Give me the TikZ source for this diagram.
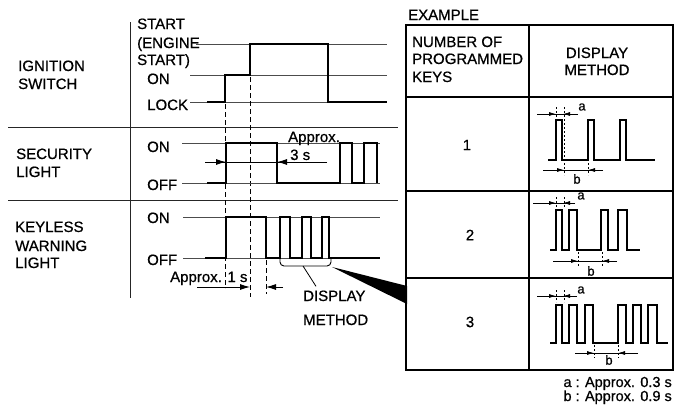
\documentclass[tikz,border=0pt]{standalone}
\usepackage{fontspec}
\setmainfont{Liberation Sans}[FakeBold=0.7]
\usetikzlibrary{arrows.meta}
\tikzset{
  wave/.style={line width=2.4pt, line join=miter},
  cellwave/.style={line width=2.2pt, line join=miter},
  level/.style={line width=0.6pt, black!70},
  rule/.style={line width=0.9pt, black!85},
  grid/.style={line width=1.3pt},
  guide/.style={line width=1pt, dash pattern=on 5pt off 3pt},
  tick/.style={line width=0.8pt, dash pattern=on 2pt off 2pt},
  dimline/.style={line width=0.9pt},
  dim/.style={line width=0.9pt, -{Latex[length=10pt,width=6pt]}},
  celldim/.style={line width=0.8pt, -{Latex[length=7pt,width=4pt]}},
  txt/.style={anchor=base west, inner sep=0pt, font=\fontsize{15}{18}\selectfont},
  small/.style={inner sep=0pt, font=\fontsize{13}{15}\selectfont},
}
\begin{document}
\begin{tikzpicture}[x=1pt,y=-1pt]
    \useasboundingbox (0,0) rectangle (683,415);

    % Frame of the timing chart
    \draw[rule] (130,22) -- (130,298);
    \draw[rule] (8,127) -- (398,127);
    \draw[rule] (8,200) -- (398,200);

    % Ignition switch
    \node[txt] (ign1) at (18,71) {IGNITION};
    \node[txt] (ign2) at (18,89) {SWITCH};
    \node[txt] (start1) at (137,29) {START};
    \node[txt] (start2) at (137,48) {(ENGINE};
    \node[txt] (start3) at (137,65) {START)};
    \node[txt] (ignon) at (147,84) {ON};
    \node[txt] (lock) at (147,110) {LOCK};
    \draw[level] (196,44) -- (387,44);
    \draw[level] (190,75) -- (387,75);
    \draw[level] (190,102) -- (387,102);
    \draw[wave] (207,102) -- (225,102) -- (225,75) -- (250,75) -- (250,44)
        -- (328,44) -- (328,102) -- (387,102);

    % Timing guides
    \draw[guide] (225,104) -- (225,288);
    \draw[guide] (250,77) -- (250,297);
    \draw[guide] (266,260) -- (266,294);

    % Security light
    \node[txt] (sec1) at (16,159) {SECURITY};
    \node[txt] (sec2) at (16,177) {LIGHT};
    \node[txt] (secon) at (147,152) {ON};
    \node[txt] (secoff) at (147,190) {OFF};
    \draw[level] (182,143) -- (380,143);
    \draw[level] (182,183) -- (380,183);
    \draw[wave] (207,183) -- (226,183) -- (226,143) -- (277,143) -- (277,183)
        -- (340,183) -- (340,143) -- (352,143) -- (352,183) -- (364,183)
        -- (364,143) -- (377,143) -- (377,183);
    \draw[dimline] (205,162) -- (327,162);
    \draw[dim] (205,162) -- (226,162);
    \draw[dim] (327,162) -- (277,162);
    \node[txt] (appr3a) at (288,142) {Approx.};
    \node[txt] (appr3b) at (290,160) {3 s};

    % Keyless warning light
    \node[txt] (key1) at (15,232) {KEYLESS};
    \node[txt] (key2) at (15,251) {WARNING};
    \node[txt] (key3) at (15,268) {LIGHT};
    \node[txt] (keyon) at (147,223) {ON};
    \node[txt] (keyoff) at (147,265) {OFF};
    \draw[level] (183,217) -- (380,217);
    \draw[level] (183,258) -- (380,258);
    \draw[wave] (205,258) -- (226,258) -- (226,217) -- (266,217) -- (266,258)
        -- (280,258) -- (280,217) -- (290,217) -- (290,258) -- (302,258)
        -- (302,217) -- (311,217) -- (311,258) -- (322,258) -- (322,217)
        -- (329,217) -- (329,258) -- (380,258);
    \node[txt] (appr1) at (170,282) {Approx. 1 s};
    \draw[dim] (197,287) -- (250,287);
    \draw[dim] (283,287) -- (266,287);

    % Display method bracket
    \draw[line width=0.9pt, rounded corners=4pt] (280,259) -- (280,266)
        -- (331,266) -- (331,259);
    \coordinate (brk) at (303,266);
    \node[txt] (disp1) at (303,301) {DISPLAY};
    \node[txt] (disp2) at (303,325) {METHOD};
    \draw[line width=0.8pt] (brk) -- ([xshift=13pt,yshift=4pt]disp1.north west);
    \fill (332,267) -- (407,286) -- (407,304) -- cycle;

    % Example table
    \node[txt] (example) at (408,20) {EXAMPLE};
    \draw[grid] (406,25) rectangle (673,370);
    \draw[grid] (529,25) -- (529,370);
    \draw[grid] (406,97) -- (673,97);
    \draw[grid] (406,191) -- (673,191);
    \draw[grid] (406,278) -- (673,278);
    \node[txt] (num1) at (412,47) {NUMBER OF};
    \node[txt] (num2) at (412,64) {PROGRAMMED};
    \node[txt] (num3) at (412,82) {KEYS};
    \node[txt, anchor=base] (dm1) at (597,58) {DISPLAY};
    \node[txt, anchor=base] (dm2) at (597,75) {METHOD};
    \node[txt, anchor=center] (k1) at (467,145) {1};
    \node[txt, anchor=center] (k2) at (470,235) {2};
    \node[txt, anchor=center] (k3) at (470,322) {3};

    % One key
    \draw[cellwave] (548,160) -- (556,160) -- (556,120) -- (562,120) -- (562,160)
        -- (588,160) -- (588,120) -- (594,120) -- (594,160) -- (620,160)
        -- (620,120) -- (626,120) -- (626,160) -- (655,160);
    \draw[dimline] (537,114) -- (578,114);
    \draw[celldim] (537,114) -- (556,114);
    \draw[celldim] (578,114) -- (563,114);
    \draw[tick] (556,107) -- (556,118);
    \draw[tick] (564,107) -- (564,175);
    \draw[dimline] (543,170) -- (603,170);
    \draw[celldim] (543,170) -- (564,170);
    \draw[celldim] (603,170) -- (588,170);
    \draw[tick] (588,163) -- (588,175);
    \node[small] (a1) at (582,107) {a};
    \node[small] (b1) at (577,179) {b};

    % Two keys
    \draw[cellwave] (550,250) -- (556,250) -- (556,210) -- (562,210) -- (562,250)
        -- (569,250) -- (569,210) -- (577,210) -- (577,250) -- (601,250)
        -- (601,210) -- (608,210) -- (608,250) -- (618,250) -- (618,210)
        -- (627,210) -- (627,250) -- (640,250);
    \draw[dimline] (533,203) -- (575,203);
    \draw[celldim] (533,203) -- (556,203);
    \draw[celldim] (575,203) -- (563,203);
    \draw[tick] (556,197) -- (556,208);
    \draw[tick] (564,197) -- (564,208);
    \draw[dimline] (553,261) -- (617,261);
    \draw[celldim] (553,261) -- (578,261);
    \draw[celldim] (617,261) -- (602,261);
    \draw[tick] (578,252) -- (578,266);
    \draw[tick] (602,252) -- (602,266);
    \node[small] (a2) at (581,196) {a};
    \node[small] (b2) at (591,271) {b};

    % Three keys
    \draw[cellwave] (550,343) -- (556,343) -- (556,305) -- (562,305) -- (562,343)
        -- (569,343) -- (569,305) -- (577,305) -- (577,343) -- (585,343)
        -- (585,305) -- (593,305) -- (593,343) -- (618,343) -- (618,305)
        -- (626,305) -- (626,343) -- (633,343) -- (633,305) -- (641,305)
        -- (641,343) -- (648,343) -- (648,305) -- (657,305) -- (657,343)
        -- (668,343);
    \draw[dimline] (537,296) -- (577,296);
    \draw[celldim] (537,296) -- (556,296);
    \draw[celldim] (577,296) -- (563,296);
    \draw[tick] (556,290) -- (556,302);
    \draw[tick] (564,290) -- (564,302);
    \draw[dimline] (575,353) -- (638,353);
    \draw[celldim] (575,353) -- (594,353);
    \draw[celldim] (638,353) -- (618,353);
    \draw[tick] (594,345) -- (594,358);
    \draw[tick] (618,345) -- (618,358);
    \node[small] (a3) at (581,290) {a};
    \node[small] (b3) at (609,360) {b};

    % Legend
    \node[txt, anchor=base east, font=\fontsize{14.5}{16}\selectfont] (notea) at (672,387) {a : Approx. 0.3 s};
    \node[txt, anchor=base east, font=\fontsize{14.5}{16}\selectfont] (noteb) at (672,401) {b : Approx. 0.9 s};
\end{tikzpicture}
\end{document}
